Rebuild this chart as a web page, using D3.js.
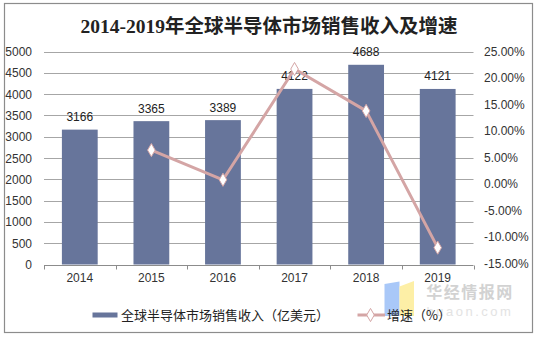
<!DOCTYPE html>
<html><head><meta charset="utf-8">
<script src="https://cdn.jsdelivr.net/npm/d3@7"></script>
<style>body{margin:0;background:#fff}svg{display:block}</style>
</head><body>
<svg id="c" width="539" height="337"></svg>
<script>
const years = ["2014","2015","2016","2017","2018","2019"];
const revenue = [3166, 3365, 3389, 4122, 4688, 4121];
const growthYears = ["2015","2016","2017","2018","2019"];
const growth = [6.3, 0.7, 21.6, 13.7, -12.1];
const leftTicks = [0,500,1000,1500,2000,2500,3000,3500,4000,4500,5000];
const rightTicks = [-15,-10,-5,0,5,10,15,20,25];
const title = "2014-2019年全球半导体市场销售收入及增速";
const legendBar = "全球半导体市场销售收入（亿美元）";
const legendLine = "增速（%）";

const svg = d3.select("#c");
const font = "Arial, 'Liberation Sans', 'Noto Sans CJK SC', sans-serif";
const x0 = 44, x1 = 473.5, yTop = 51.5, yBot = 264.5;
const x = d3.scaleBand().domain(years).range([x0, x1]).paddingInner(0.5).paddingOuter(0.25);
const band = d3.scaleBand().domain(years).range([x0, x1]);
const yL = d3.scaleLinear().domain([0,5000]).range([yBot, yTop]);
const yR = d3.scaleLinear().domain([-15,25]).range([yBot-1.5, yTop-0.5]);

// frame
svg.append("rect").attr("x",4.5).attr("y",3.5).attr("width",528).attr("height",329)
  .attr("fill","none").attr("stroke","#8c8c8c").attr("stroke-width",1.2);

// title
svg.append("text").attr("x",269).attr("y",33).attr("text-anchor","middle")
  .attr("font-family","'Liberation Serif','Noto Sans CJK SC',serif").attr("font-size",19.5)
  .attr("font-weight",600).attr("fill","#222").text(title);

// gridlines
svg.append("g").selectAll("line").data(leftTicks.slice(1)).join("line")
  .attr("x1",x0).attr("x2",x1).attr("y1",d=>Math.round(yL(d))+0.5).attr("y2",d=>Math.round(yL(d))+0.5)
  .attr("stroke","#a6a6a6").attr("stroke-width",1);

// left axis labels
svg.append("g").selectAll("text").data(leftTicks).join("text")
  .attr("x",32).attr("y",d=>yL(d)+4.5).attr("text-anchor","end")
  .attr("font-family",font).attr("font-size",12).attr("fill","#333").text(d=>d);

// right axis labels
svg.append("g").selectAll("text").data(rightTicks).join("text")
  .attr("x",484).attr("y",d=>yR(d)+4.5).attr("text-anchor","start")
  .attr("font-family",font).attr("font-size",12).attr("fill","#333").text(d=>d.toFixed(2)+"%");

// bars
svg.append("g").selectAll("rect").data(revenue).join("rect")
  .attr("x",(d,i)=>x(years[i])).attr("width",x.bandwidth())
  .attr("y",d=>yL(d)).attr("height",d=>yBot-yL(d)).attr("fill","#67759b");

// x axis
const ax = svg.append("g");
ax.append("line").attr("x1",x0).attr("x2",x1).attr("y1",yBot+1).attr("y2",yBot+1).attr("stroke","#8c8c8c");
const bounds = years.map(d=>band(d)).concat([x1]);
ax.selectAll(".tk").data(bounds).join("line").attr("class","tk")
  .attr("x1",d=>Math.round(d)+0.5).attr("x2",d=>Math.round(d)+0.5).attr("y1",yBot+1).attr("y2",yBot+5).attr("stroke","#8c8c8c");
ax.selectAll("text").data(years).join("text")
  .attr("x",d=>band(d)+band.bandwidth()/2).attr("y",281.5).attr("text-anchor","middle")
  .attr("font-family",font).attr("font-size",12).attr("fill","#333").text(d=>d);

// bar labels
svg.append("g").selectAll("text").data(revenue).join("text")
  .attr("x",(d,i)=>x(years[i])+x.bandwidth()/2).attr("y",d=>yL(d)-8.5).attr("text-anchor","middle")
  .attr("font-family",font).attr("font-size",12).attr("fill","#222").text(d=>d);

// line
const cx = d=>band(d)+band.bandwidth()/2;
const line = d3.line().x((d,i)=>cx(growthYears[i])).y(d=>yR(d));
svg.append("path").datum(growth).attr("d",line).attr("fill","none")
  .attr("stroke","#d4a5a5").attr("stroke-width",3).attr("stroke-linejoin","round");
const diamond = d3.symbol().type(d3.symbolDiamond).size(50);
svg.append("g").selectAll("path").data(growth).join("path")
  .attr("transform",(d,i)=>`translate(${cx(growthYears[i])},${yR(d)})`)
  .attr("d",diamond).attr("fill","#fff").attr("stroke","#d4a5a5").attr("stroke-width",1);

// watermark
const wm = svg.append("g");
wm.append("path").attr("d","M384.5,284 L399.5,281.5 L399.5,316 L384.5,316 Z").attr("fill","#a9c8f8");
wm.append("path").attr("d","M399.5,286.5 L414,281 L414,316 L399.5,316 Z").attr("fill","#fdefa6");
wm.append("text").attr("x",470).attr("y",298).attr("text-anchor","middle")
  .attr("font-family","'Noto Sans CJK SC',sans-serif").attr("font-weight","bold").attr("font-size",16)
  .attr("letter-spacing",1.5).attr("fill","#d2d2d2").text("华经情报网");
wm.append("text").attr("x",470).attr("y",316).attr("text-anchor","middle")
  .attr("font-family",font).attr("font-size",13).attr("letter-spacing",2.5)
  .attr("fill","#e3e3e3").text("huaon.com");

// legend
const lg = svg.append("g");
lg.append("rect").attr("x",92.5).attr("y",312.5).attr("width",25).attr("height",5).attr("fill","#67759b");
lg.append("text").attr("x",121).attr("y",320).attr("font-family","'Noto Sans CJK SC',sans-serif")
  .attr("font-size",13).attr("fill","#222").text(legendBar);
lg.append("line").attr("x1",357.5).attr("x2",385).attr("y1",315).attr("y2",315).attr("stroke","#d4a5a5").attr("stroke-width",3);
lg.append("path").attr("transform","translate(370.5,315)").attr("d",diamond).attr("fill","#fff").attr("stroke","#d4a5a5");
lg.append("text").attr("x",387).attr("y",320).attr("font-family","'Noto Sans CJK SC',sans-serif")
  .attr("font-size",13).attr("fill","#222").text(legendLine);
</script>
</body></html>
